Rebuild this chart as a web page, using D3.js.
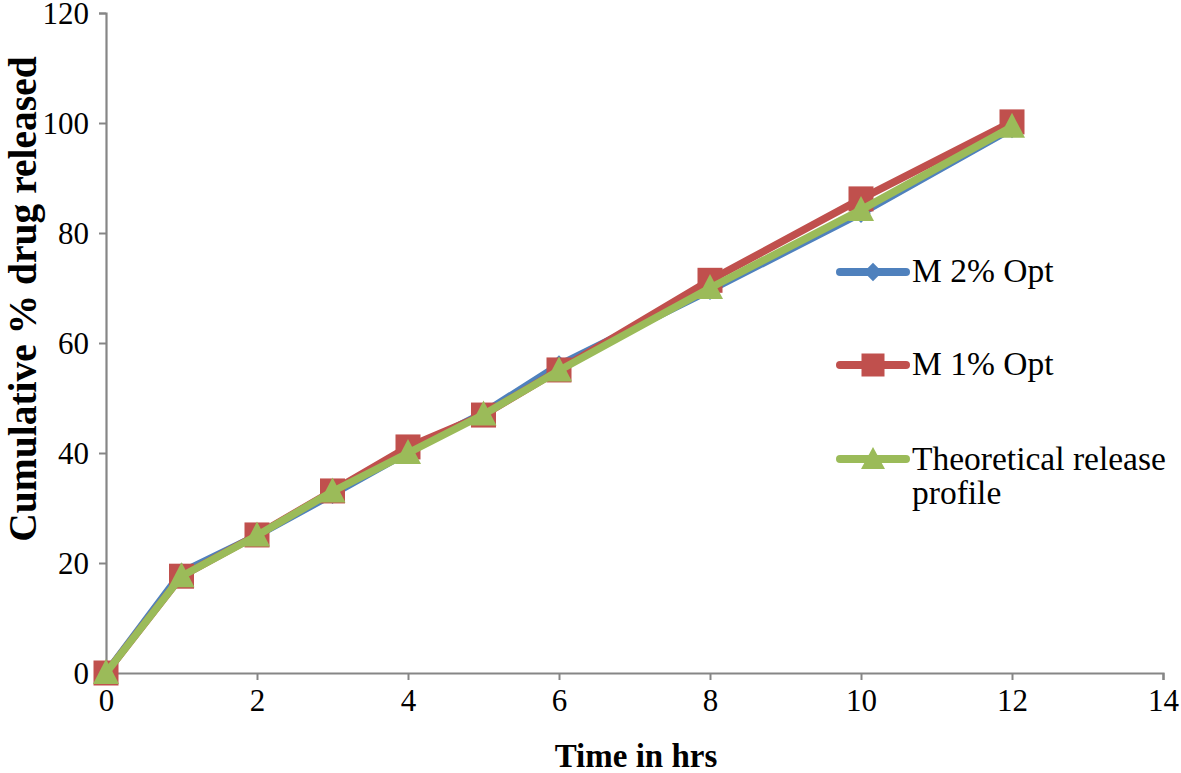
<!DOCTYPE html>
<html>
<head>
<meta charset="utf-8">
<script src="https://cdn.jsdelivr.net/npm/d3@7"></script>
<style>
  html, body { margin: 0; padding: 0; background: #fff; }
  svg { display: block; }
  text { font-family: "Liberation Serif", "Times New Roman", serif; fill: #000; }
</style>
</head>
<body>
<svg id="chart" width="1181" height="773"></svg>
<script>
// ---- data ----
const timeHrs = [0, 1, 2, 3, 4, 5, 6, 8, 10, 12];
const m2Opt = [0, 18.3, 25, 32.5, 40.2, 47.3, 56, 69.6, 83.6, 99];
const m1Opt = [0, 17.6, 25.1, 33.1, 41.1, 46.9, 55.1, 71.4, 86.2, 100.2];
const theoretical = [0, 17.6, 25, 33, 40, 47, 55, 70, 84.2, 99.3];
const xTicks = [0, 2, 4, 6, 8, 10, 12, 14];
const yTicks = [0, 20, 40, 60, 80, 100, 120];
const seriesNames = ["M 2% Opt", "M 1% Opt", "Theoretical release profile"];
const seriesColors = ["#4F81BD", "#C0504D", "#9BBB59"];
const seriesShapes = ["diamond", "square", "triangle"];

const series = [m2Opt, m1Opt, theoretical].map((vals, i) => ({
  name: seriesNames[i], color: seriesColors[i], shape: seriesShapes[i],
  points: timeHrs.map((t, j) => ({ x: t, y: vals[j] }))
}));

const svg = d3.select("#chart");
const x = d3.scaleLinear().domain([0, 14]).range([106, 1163]);
const y = d3.scaleLinear().domain([0, 120]).range([673, 13]);
const axisColor = "#868686";
const serif = '"Liberation Serif", "Times New Roman", serif';

// axes
const xAxis = svg.append("g").attr("transform", `translate(0,${y(0)})`)
  .call(d3.axisBottom(x).tickValues(xTicks).tickSize(7).tickPadding(9).tickFormat(d3.format("d")));
const yAxis = svg.append("g").attr("transform", `translate(${x(0)},0)`)
  .call(d3.axisLeft(y).tickValues(yTicks).tickSize(7).tickPadding(10).tickFormat(d3.format("d")));
[xAxis, yAxis].forEach(g => {
  g.attr("font-family", null).attr("font-size", null);
  g.select(".domain").attr("stroke", axisColor).attr("stroke-width", 2.2);
  g.selectAll(".tick line").attr("stroke", axisColor).attr("stroke-width", 2);
  g.selectAll(".tick text").style("font-family", serif).style("font-size", "31px").attr("fill", "#000");
});
yAxis.selectAll(".tick text").attr("dy", "0.34em");
xAxis.selectAll(".tick text").attr("dy", "0.71em");

// axis titles
svg.append("text").attr("x", 636).attr("y", 767).attr("text-anchor", "middle")
  .style("font-family", serif).style("font-size", "33px").style("font-weight", "bold").text("Time in hrs");
svg.append("text").attr("transform", "translate(36,299) rotate(-90)").attr("text-anchor", "middle")
  .style("font-family", serif).style("font-size", "39.5px").style("font-weight", "bold").text("Cumulative % drug released");

// marker generator
function marker(sel, shape, color) {
  if (shape === "diamond") {
    sel.append("path").attr("d", d3.symbol().type(d3.symbolDiamond2).size(240)).attr("fill", color);
  } else if (shape === "square") {
    sel.append("rect").attr("x", -12.5).attr("y", -12.5).attr("width", 25).attr("height", 25).attr("fill", color);
  } else {
    sel.append("path").attr("d", "M0,-14 L13,11 L-13,11 Z").attr("fill", color);
  }
}

const line = d3.line().x(d => x(d.x)).y(d => y(d.y));
series.forEach(s => {
  const g = svg.append("g");
  g.append("path").datum(s.points).attr("d", line).attr("fill", "none")
    .attr("stroke", s.color).attr("stroke-width", 7.5)
    .attr("stroke-linejoin", "round").attr("stroke-linecap", "round");
  s.points.forEach(p => {
    const m = g.append("g").attr("transform", `translate(${x(p.x)},${y(p.y)})`);
    marker(m, s.shape, s.color);
  });
});

// legend
const legendY = [272, 365, 459];
series.forEach((s, i) => {
  const g = svg.append("g").attr("transform", `translate(0,${legendY[i]})`);
  g.append("line").attr("x1", 840).attr("x2", 906).attr("y1", 0).attr("y2", 0)
    .attr("stroke", s.color).attr("stroke-width", 8).attr("stroke-linecap", "round");
  const m = g.append("g").attr("transform", "translate(873,0)");
  if (s.shape === "diamond") m.append("path").attr("d", d3.symbol().type(d3.symbolDiamond2).size(220)).attr("fill", s.color);
  else if (s.shape === "square") m.append("rect").attr("x", -11.5).attr("y", -11.5).attr("width", 23).attr("height", 23).attr("fill", s.color);
  else m.append("path").attr("d", "M0,-12 L12,10 L-12,10 Z").attr("fill", s.color);
  const t = g.append("text").attr("x", 912).attr("y", 10).style("font-family", serif).style("font-size", "33.5px");
  if (i === 2) {
    t.append("tspan").attr("x", 912).attr("y", 11).text("Theoretical release");
    t.append("tspan").attr("x", 912).attr("y", 45).text("profile");
  } else {
    t.text(s.name);
  }
});
</script>
</body>
</html>
